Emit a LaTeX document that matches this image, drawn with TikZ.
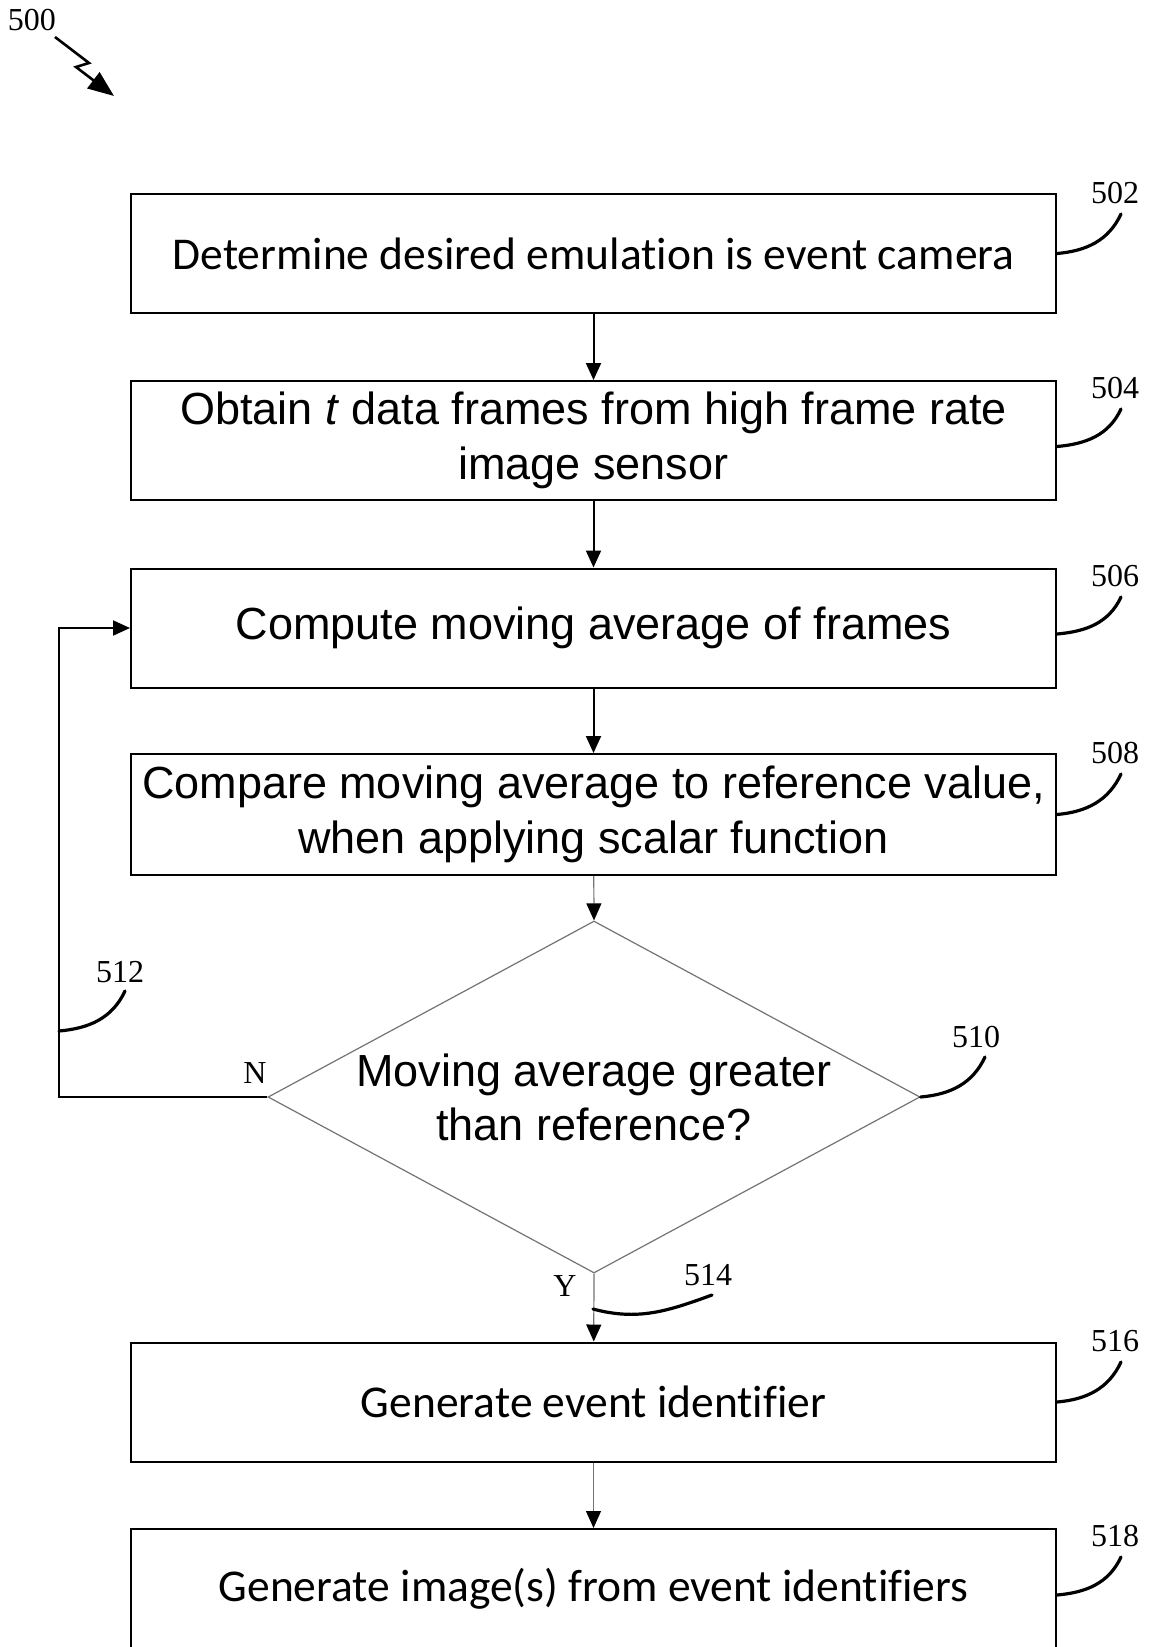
\documentclass[tikz,border=0pt]{standalone}
\usepackage{fontspec}
\setmainfont{Liberation Serif}
\newfontfamily\arialf{Liberation Sans}
\newfontfamily\calf[Ligatures=NoCommon]{Carlito}
\usetikzlibrary{arrows.meta,shapes.geometric}

\tikzset{
  stepbox/.style={draw=black, line width=2pt, minimum width=925pt, minimum height=119pt,
                  inner sep=0pt, align=center},
  calibox/.style={stepbox, font=\calf\fontsize{45.5}{55}\selectfont},
  arialbox/.style={stepbox, font=\arialf\fontsize{45}{55}\selectfont},
  flowline/.style={draw=black, line width=2pt, -{Triangle[length=17pt,width=15pt]}},
  thinline/.style={draw=black!55, line width=1.2pt, -{Triangle[length=17pt,width=15pt,black]}},
  leader/.style={draw=black, line width=3.2pt, line cap=round},
  refnum/.style={font=\fontsize{32}{34}\selectfont, inner sep=0pt},
}

\begin{document}
\begin{tikzpicture}[x=1pt, y=-1pt]
\useasboundingbox (0,0) rectangle (1149,1647);
\clip (0,0) rectangle (1149,1647);

% process boxes
\node[calibox] (b502) at (593.5,253.5) {Determine desired emulation is event camera};
\node[arialbox] (b504) at (593.5,440.5) {Obtain \textit{t} data frames from high frame rate\\image sensor};
\node[arialbox] (b506) at (593.5,628) {Compute moving average of frames};
\node[arialbox, minimum height=121pt] (b508) at (593.5,814.5) {Compare moving average to reference value,\\when applying scalar function};
\node[draw=black!55, line width=1.2pt, diamond, shape aspect=1.85, minimum width=652pt, minimum height=352pt,
      inner sep=0pt, align=center, font=\arialf\fontsize{45}{54}\selectfont] (d510) at (594,1097)
      {Moving average greater\\than reference?};
\node[calibox] (b516) at (593.5,1402) {Generate event identifier};
\node[calibox, minimum height=120pt] (b518) at (593.5,1589) {Generate image(s) from event identifiers};

% connectors
\draw[flowline] (b502) -- (b504);
\draw[flowline] (b504) -- (b506);
\draw[flowline] (b506) -- (b508);
\draw[thinline] (b508) -- (d510.north);
\draw[thinline] (d510.south) -- (b516);
\draw[thinline] (b516) -- (b518);
\coordinate (loop) at (59,1097);
\draw[flowline] (d510.west) -- (loop) |- (b506.west);

% branch labels
\node[refnum] (lN) at (255,1073) {N};
\node[refnum] (lY) at (565,1286) {Y};

% figure number with lightning arrow
\node[refnum] (r500) at (32,20) {500};
\coordinate (z1) at (55,37);
\coordinate (z2) at (89,63);
\coordinate (z3) at (76,67);
\coordinate (z4) at (114,96);
\draw[line width=2.6pt, -{Triangle[length=26pt,width=20pt]}] (z1) -- (z2) -- (z3) -- (z4);

% reference numerals and leaders
\node[refnum] (r502) at (1115,193) {502};
\draw[leader] (b502.east) to[out=5,in=-115] (1121,214);
\node[refnum] (r504) at (1115,388) {504};
\draw[leader] ([yshift=-6pt]b504.east) to[out=5,in=-115] (1121,409);
\node[refnum] (r506) at (1115,576) {506};
\draw[leader] ([yshift=-6pt]b506.east) to[out=5,in=-115] (1121,597);
\node[refnum] (r508) at (1115,753) {508};
\draw[leader] (b508.east) to[out=5,in=-115] (1121,774);
\node[refnum] (r510) at (976,1037) {510};
\draw[leader] (d510.east) to[out=5,in=-115] (985,1057);
\node[refnum] (r512) at (120,972) {512};
\draw[leader] (59,1031) to[out=5,in=-115] (125,991);
\node[refnum] (r514) at (708,1275) {514};
\draw[leader] (593,1309) to[out=-15,in=-160] (712,1295);
\node[refnum] (r516) at (1115,1341) {516};
\draw[leader] (b516.east) to[out=5,in=-115] (1121,1362);
\node[refnum] (r518) at (1115,1536) {518};
\draw[leader] ([yshift=-6pt]b518.east) to[out=5,in=-115] (1121,1557);
\end{tikzpicture}
\end{document}
